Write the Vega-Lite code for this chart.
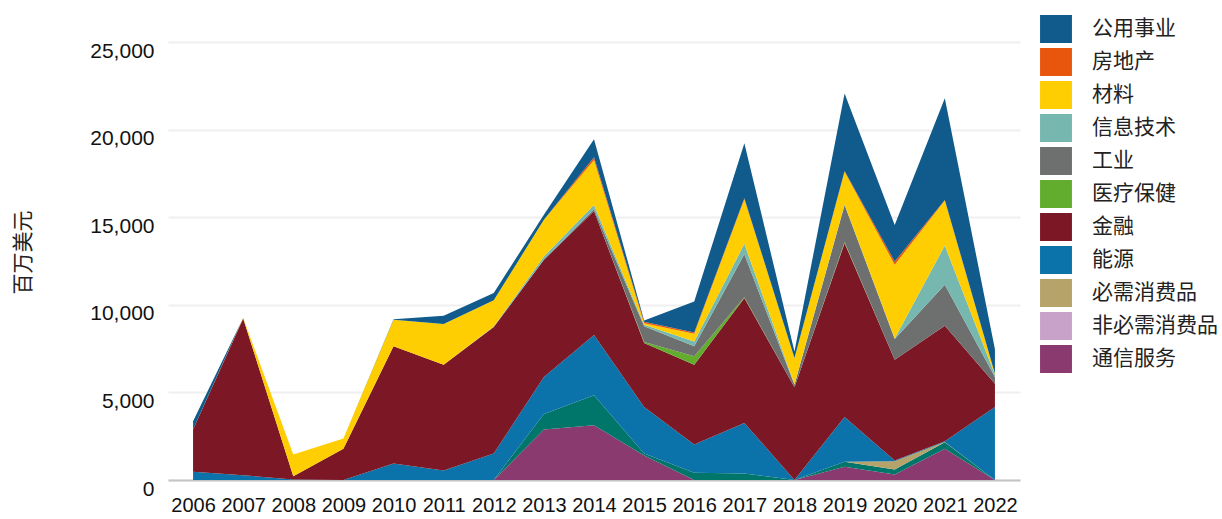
{
  "$schema": "https://vega.github.io/schema/vega-lite/v6.json",
  "width": 852,
  "height": 438,
  "autosize": {"type": "none"},
  "padding": {"left": 168, "top": 42, "right": 202, "bottom": 39},
  "config": {
    "font": "Liberation Sans, Noto Sans CJK SC",
    "view": {"stroke": null},
    "background": "white"
  },
  "datasets": {
    "wide": [
      {"year": "2006", "通信服务": 0, "非必需消费品": 0, "必需消费品": 0, "能源": 470, "金融": 2410, "医疗保健": 0, "工业": 0, "信息技术": 0, "材料": 0, "房地产": 0, "公用事业": 470},
      {"year": "2007", "通信服务": 0, "非必需消费品": 0, "必需消费品": 0, "能源": 270, "金融": 8950, "医疗保健": 0, "工业": 0, "信息技术": 0, "材料": 30, "房地产": 0, "公用事业": 0},
      {"year": "2008", "通信服务": 0, "非必需消费品": 0, "必需消费品": 0, "能源": 30, "金融": 190, "医疗保健": 0, "工业": 0, "信息技术": 0, "材料": 1230, "房地产": 0, "公用事业": 0},
      {"year": "2009", "通信服务": 0, "非必需消费品": 0, "必需消费品": 0, "能源": 0, "金融": 1780, "医疗保健": 0, "工业": 0, "信息技术": 0, "材料": 585, "房地产": 0, "公用事业": 0},
      {"year": "2010", "通信服务": 0, "非必需消费品": 0, "必需消费品": 0, "能源": 940, "金融": 6690, "医疗保健": 0, "工业": 0, "信息技术": 0, "材料": 1520, "房地产": 0, "公用事业": 30},
      {"year": "2011", "通信服务": 0, "非必需消费品": 0, "必需消费品": 0, "能源": 540, "金融": 6040, "医疗保健": 0, "工业": 0, "信息技术": 0, "材料": 2320, "房地产": 0, "公用事业": 475},
      {"year": "2012", "通信服务": 0, "非必需消费品": 0, "必需消费品": 0, "能源": 1510, "金融": 7220, "医疗保健": 0, "工业": 0, "信息技术": 30, "材料": 1500, "房地产": 0, "公用事业": 420},
      {"year": "2013", "通信服务": 2880, "非必需消费品": 890, "必需消费品": 0, "能源": 2110, "金融": 6690, "医疗保健": 0, "工业": 0, "信息技术": 190, "材料": 2090, "房地产": 0, "公用事业": 285},
      {"year": "2014", "通信服务": 3125, "非必需消费品": 1710, "必需消费品": 0, "能源": 3440, "金融": 7085, "医疗保健": 0, "工业": 100, "信息技术": 240, "材料": 2570, "房地产": 150, "公用事业": 1030},
      {"year": "2015", "通信服务": 1395, "非必需消费品": 115, "必需消费品": 0, "能源": 2660, "金融": 3650, "医疗保健": 50, "工业": 900, "信息技术": 90, "材料": 90, "房地产": 80, "公用事业": 70},
      {"year": "2016", "通信服务": 0, "非必需消费品": 410, "必需消费品": 0, "能源": 1610, "金融": 4560, "医疗保健": 480, "工业": 570, "信息技术": 280, "材料": 440, "房地产": 75, "公用事业": 1765},
      {"year": "2017", "通信服务": 0, "非必需消费品": 370, "必需消费品": 0, "能源": 2890, "金融": 7125, "医疗保健": 40, "工业": 2465, "信息技术": 590, "材料": 2550, "房地产": 55, "公用事业": 3135},
      {"year": "2018", "通信服务": 0, "非必需消费品": 0, "必需消费品": 0, "能源": 0, "金融": 5300, "医疗保健": 0, "工业": 130, "信息技术": 30, "材料": 1500, "房地产": 0, "公用事业": 380},
      {"year": "2019", "通信服务": 750, "非必需消费品": 285, "必需消费品": 0, "能源": 2565, "金融": 9920, "医疗保健": 60, "工业": 2120, "信息技术": 30, "材料": 1870, "房地产": 30, "公用事业": 4430},
      {"year": "2020", "通信服务": 315, "非必需消费品": 285, "必需消费品": 470, "能源": 40, "金融": 5760, "医疗保健": 0, "工业": 1180, "信息技术": 20, "材料": 4215, "房地产": 185, "公用事业": 2090},
      {"year": "2021", "通信服务": 1780, "非必需消费品": 375, "必需消费品": 20, "能源": 30, "金融": 6600, "医疗保健": 0, "工业": 2335, "信息技术": 2245, "材料": 2565, "房地产": 30, "公用事业": 5805},
      {"year": "2022", "通信服务": 0, "非必需消费品": 0, "必需消费品": 0, "能源": 4170, "金融": 1330, "医疗保健": 0, "工业": 380, "信息技术": 130, "材料": 50, "房地产": 0, "公用事业": 1400}
    ],
    "sectors": [
      {"sector": "通信服务", "rank": 0},
      {"sector": "非必需消费品", "rank": 1},
      {"sector": "必需消费品", "rank": 2},
      {"sector": "能源", "rank": 3},
      {"sector": "金融", "rank": 4},
      {"sector": "医疗保健", "rank": 5},
      {"sector": "工业", "rank": 6},
      {"sector": "信息技术", "rank": 7},
      {"sector": "材料", "rank": 8},
      {"sector": "房地产", "rank": 9},
      {"sector": "公用事业", "rank": 10}
    ]
  },
  "layer": [
    {
      "data": {"name": "wide"},
      "transform": [
        {"fold": ["通信服务", "非必需消费品", "必需消费品", "能源", "金融", "医疗保健", "工业", "信息技术", "材料", "房地产", "公用事业"], "as": ["sector", "value"]},
        {"lookup": "sector", "from": {"data": {"name": "sectors"}, "key": "sector", "fields": ["rank"]}}
      ],
      "mark": {"type": "area", "interpolate": "linear", "opacity": 1},
      "encoding": {
        "x": {
          "field": "year", "type": "ordinal",
          "scale": {"paddingOuter": 0.5},
          "axis": {
            "title": null, "labelAngle": 0, "labelFontSize": 20, "labelColor": "#111",
            "labelPadding": 15, "ticks": false, "grid": false,
            "domain": true, "domainColor": "#c4c4c4", "domainWidth": 2
          }
        },
        "y": {
          "field": "value", "type": "quantitative", "stack": "zero",
          "scale": {"domain": [0, 25000], "nice": false},
          "axis": {
            "title": "百万美元", "titleFont": "Noto Sans CJK SC", "titleFontSize": 21,
            "titleFontWeight": "normal", "titleColor": "#222", "titleAngle": -90,
            "titleX": -145, "titleY": 210, "titleAlign": "center", "titleBaseline": "middle",
            "values": [0, 5000, 10000, 15000, 20000, 25000], "format": ",.0f",
            "labelFontSize": 21, "labelColor": "#111", "labelPadding": 14,
            "labelBaseline": "top", "labelOffset": -2,
            "ticks": false, "domain": false,
            "grid": true, "gridColor": "#efefef", "gridWidth": 2
          }
        },
        "color": {
          "field": "sector", "type": "nominal",
          "scale": {
            "domain": ["公用事业", "房地产", "材料", "信息技术", "工业", "医疗保健", "金融", "能源", "必需消费品", "非必需消费品", "通信服务"],
            "range": ["#105B8C", "#E8560E", "#FECE02", "#76B7B0", "#6E6F6F", "#62AD2E", "#7C1725", "#0B73AA", "#B5A36A", "#00756A", "#8B3A70"]
          },
          "legend": null
        },
        "order": {"field": "rank", "type": "quantitative", "sort": "ascending"}
      }
    },
    {
      "data": {"values": [{"s": "公用事业"}]},
      "transform": [{"filter": "false"}],
      "mark": {"type": "point", "filled": true, "opacity": 1},
      "encoding": {
        "fill": {
          "field": "s", "type": "nominal",
          "scale": {
            "domain": ["公用事业", "房地产", "材料", "信息技术", "工业", "医疗保健", "金融", "能源", "必需消费品", "非必需消费品", "通信服务"],
            "range": ["#105B8C", "#E8560E", "#FECE02", "#76B7B0", "#6E6F6F", "#62AD2E", "#7C1725", "#0B73AA", "#B5A36A", "#C8A2C8", "#8B3A70"]
          },
          "legend": {
            "title": null, "orient": "none", "legendX": 874, "legendY": -27,
            "padding": 0, "offset": 0,
            "symbolType": "M-1.14,-1H1.14V1H-1.14Z", "symbolSize": 784,
            "symbolStrokeWidth": 0, "symbolOpacity": 1,
            "rowPadding": 5, "labelOffset": 22,
            "labelFont": "Noto Sans CJK SC", "labelFontSize": 21, "labelColor": "#222",
            "labelLimit": 300
          }
        }
      }
    }
  ],
  "resolve": {"scale": {"color": "independent", "fill": "independent"}}
}
